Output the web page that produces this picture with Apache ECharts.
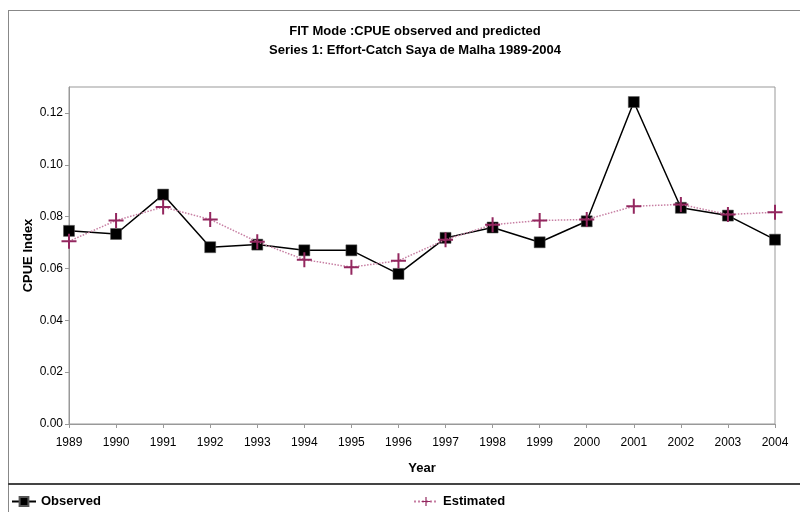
<!DOCTYPE html>
<html>
<head>
<meta charset="utf-8">
<script src="https://cdn.jsdelivr.net/npm/echarts@6/dist/echarts.min.js"></script>
<style>html,body{margin:0;padding:0;background:#fff}#c{width:800px;height:512px}</style>
</head>
<body>
<div id="c"></div>
<script>
var years = ['1989','1990','1991','1992','1993','1994','1995','1996','1997','1998','1999','2000','2001','2002','2003','2004'];
var observed = [0.0745,0.0733,0.0885,0.0682,0.0692,0.0670,0.0670,0.0579,0.0718,0.0758,0.0701,0.0782,0.1242,0.0834,0.0804,0.0711];
var estimated = [0.0705,0.0785,0.0837,0.0789,0.0703,0.0634,0.0605,0.0630,0.0711,0.0769,0.0785,0.0789,0.0840,0.0847,0.0808,0.0817];
var titleText = 'FIT Mode :CPUE observed and predicted';
var subtitleText = 'Series 1: Effort-Catch Saya de Malha 1989-2004';

var FONT2 = '"Liberation Sans",Arial,sans-serif';
var plus = 'path://M6.5,0 H8.5 V6.5 H15 V8.5 H8.5 V15 H6.5 V8.5 H0 V6.5 H6.5 Z';
var chart = echarts.init(document.getElementById('c'), null, {renderer:'canvas'});
chart.setOption({
  animation:false,
  backgroundColor:'#fff',
  title:[
    {text:titleText, left:410, top:20, textAlign:'center', textStyle:{fontFamily:FONT2, fontSize:13, fontWeight:'bold', color:'#000'}},
    {text:subtitleText, left:410, top:39, textAlign:'center', textStyle:{fontFamily:FONT2, fontSize:13, fontWeight:'bold', color:'#000'}}
  ],
  grid:{left:69, right:25, top:87, bottom:88, show:true, borderColor:'#999', borderWidth:1, backgroundColor:'transparent'},
  legend:[
    {data:['Observed'], left:6, top:490, itemWidth:24, itemHeight:11, itemGap:4, textStyle:{fontFamily:FONT2, fontSize:13, fontWeight:'bold', color:'#000'}},
    {data:['Estimated'], left:408, top:490, itemWidth:24, itemHeight:11, itemGap:4, textStyle:{fontFamily:FONT2, fontSize:13, fontWeight:'bold', color:'#000'}}
  ],
  xAxis:{
    type:'category', data:years, boundaryGap:false,
    name:'Year', nameLocation:'middle', nameGap:38,
    nameTextStyle:{fontFamily:FONT2, fontSize:13, fontWeight:'bold', color:'#000'},
    axisLine:{lineStyle:{color:'#999', width:1}},
    axisTick:{show:true, length:4, lineStyle:{color:'#999'}},
    axisLabel:{fontFamily:FONT2, fontSize:12, color:'#000', margin:13, interval:0},
    splitLine:{show:false}
  },
  yAxis:{
    type:'value', min:0, max:0.13, interval:0.02,
    name:'CPUE Index', nameLocation:'middle', nameGap:34, nameMoveOverlap:false,
    nameTextStyle:{fontFamily:FONT2, fontSize:13, fontWeight:'bold', color:'#000'},
    axisLine:{show:true, lineStyle:{color:'#999', width:1}},
    axisTick:{show:true, length:4, lineStyle:{color:'#999'}},
    axisLabel:{fontFamily:FONT2, fontSize:12, color:'#000', margin:6, showMaxLabel:false,
      formatter:function(v){return v.toFixed(2);}},
    splitLine:{show:false}
  },
  series:[
    {name:'Observed', type:'line', data:observed, symbol:'rect', symbolSize:11,
      lineStyle:{color:'#000', width:1.5},
      itemStyle:{color:'#000', borderColor:'#555', borderWidth:0.5}, z:2},
    {name:'Estimated', type:'line', data:estimated, symbol:plus, symbolSize:15,
      lineStyle:{color:'#c77fa3', width:1.5, type:'dotted'},
      itemStyle:{color:'#93275f'}, z:3}
  ],
  graphic:[
    {type:'line', shape:{x1:8.5, y1:10, x2:8.5, y2:512}, style:{stroke:'#888', lineWidth:1}},
    {type:'line', shape:{x1:8, y1:10.5, x2:800, y2:10.5}, style:{stroke:'#888', lineWidth:1}},
    {type:'line', shape:{x1:8, y1:484, x2:800, y2:484}, style:{stroke:'#444', lineWidth:2}}
  ]
});
</script>
</body>
</html>
